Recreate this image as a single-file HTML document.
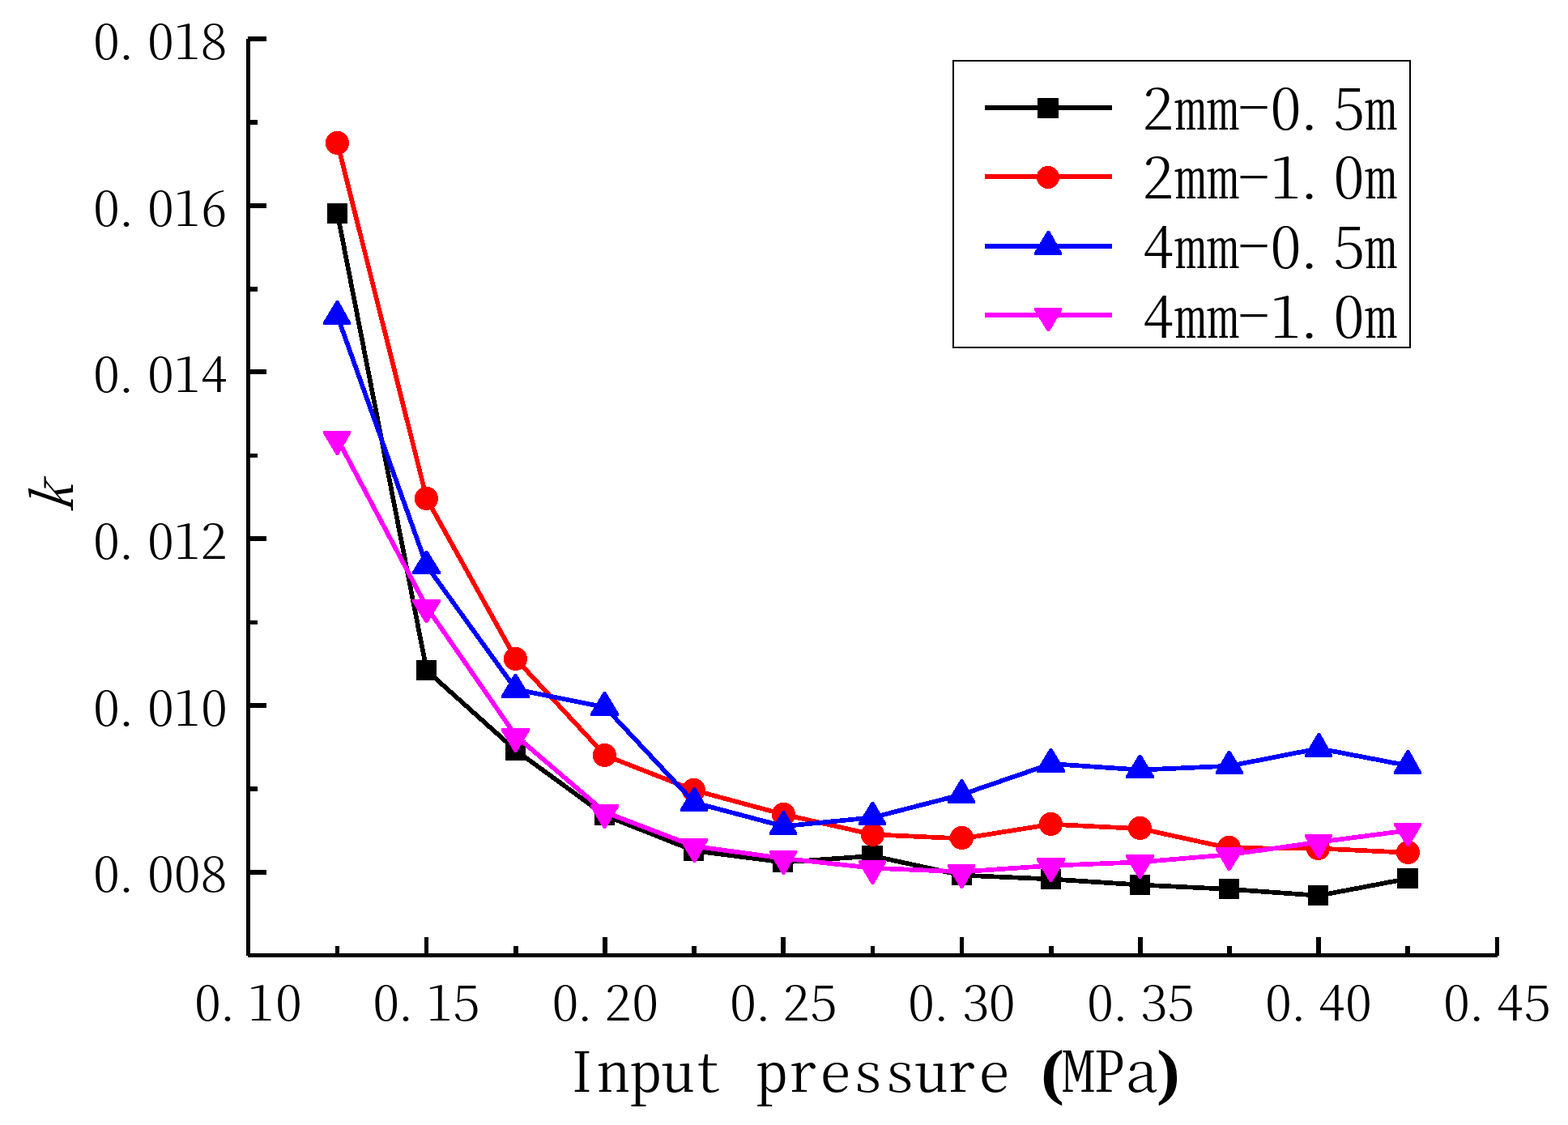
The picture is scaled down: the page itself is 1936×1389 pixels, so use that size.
<!DOCTYPE html>
<html lang="en"><head><meta charset="utf-8"><title>k vs. Input pressure (MPa)</title>
<style>
html,body{margin:0;padding:0;background:#fff}
body{width:1936px;height:1389px;overflow:hidden}
svg{display:block}
text{font-family:"Noto Serif CJK SC","Liberation Serif",serif;font-feature-settings:"hwid";font-kerning:none;font-weight:300;fill:#000;white-space:pre}
.tk{font-size:57.9px}
.lg{font-size:67.8px}
.tt{font-size:67px}
.mp{font-size:68.5px}
.pb{font-family:"Liberation Serif",serif;font-weight:bold;font-size:75.4px;font-feature-settings:normal}
</style></head><body>
<svg width="1936" height="1389" viewBox="0 0 1936 1389">
<rect width="1936" height="1389" fill="#fff"/>
<g fill="#000" shape-rendering="crispEdges">
<rect x="304" y="48" width="5" height="1132"/>
<rect x="306" y="1177" width="1543" height="5"/>
<rect x="306" y="45" width="23" height="6"/>
<rect x="306" y="148" width="12" height="6"/>
<rect x="306" y="251" width="23" height="6"/>
<rect x="306" y="354" width="12" height="6"/>
<rect x="306" y="456" width="23" height="6"/>
<rect x="306" y="560" width="12" height="5"/>
<rect x="306" y="662" width="23" height="6"/>
<rect x="306" y="766" width="12" height="5"/>
<rect x="306" y="868" width="23" height="6"/>
<rect x="306" y="971" width="12" height="6"/>
<rect x="306" y="1074" width="23" height="6"/>
<rect x="414" y="1168" width="5" height="12"/>
<rect x="524" y="1157" width="5" height="23"/>
<rect x="634" y="1168" width="6" height="12"/>
<rect x="744" y="1157" width="6" height="23"/>
<rect x="854" y="1168" width="6" height="12"/>
<rect x="964" y="1157" width="6" height="23"/>
<rect x="1075" y="1168" width="5" height="12"/>
<rect x="1185" y="1157" width="5" height="23"/>
<rect x="1295" y="1168" width="6" height="12"/>
<rect x="1405" y="1157" width="6" height="23"/>
<rect x="1515" y="1168" width="6" height="12"/>
<rect x="1625" y="1157" width="6" height="23"/>
<rect x="1735" y="1168" width="6" height="12"/>
<rect x="1846" y="1157" width="5" height="23"/>
</g>
<g shape-rendering="crispEdges" fill="none" stroke-linejoin="round" stroke-linecap="butt">
<polyline points="416.68,263.85 526.83,827.95 636.98,926.55 747.13,1006.85 857.28,1050.45 967.43,1064.55 1077.58,1056.85 1187.73,1080.65 1297.88,1085.45 1408.03,1092.55 1518.18,1097.85 1628.33,1105.75 1738.48,1084.85" stroke="#000000" stroke-width="5.7"/>
<rect x="404" y="251" width="25" height="25" fill="#000000"/>
<rect x="514" y="815" width="25" height="25" fill="#000000"/>
<rect x="624" y="914" width="25" height="25" fill="#000000"/>
<rect x="734" y="994" width="25" height="25" fill="#000000"/>
<rect x="844" y="1038" width="25" height="25" fill="#000000"/>
<rect x="954" y="1052" width="25" height="25" fill="#000000"/>
<rect x="1064" y="1044" width="26" height="25" fill="#000000"/>
<rect x="1175" y="1068" width="25" height="25" fill="#000000"/>
<rect x="1285" y="1073" width="25" height="25" fill="#000000"/>
<rect x="1395" y="1080" width="25" height="25" fill="#000000"/>
<rect x="1505" y="1085" width="25" height="25" fill="#000000"/>
<rect x="1615" y="1093" width="25" height="25" fill="#000000"/>
<rect x="1725" y="1072" width="26" height="25" fill="#000000"/>
<polyline points="416.68,176.85 526.83,615.65 636.98,813.75 747.13,932.65 857.28,975.75 967.43,1005.55 1077.58,1030.35 1187.73,1035.35 1297.88,1017.75 1408.03,1023.15 1518.18,1047.25 1628.33,1047.55 1738.48,1052.75" stroke="#ff0000" stroke-width="5.7"/>
<circle cx="416.5" cy="176.5" r="14.6" fill="#ff0000"/>
<circle cx="526.5" cy="615.5" r="14.6" fill="#ff0000"/>
<circle cx="636.5" cy="813.5" r="14.6" fill="#ff0000"/>
<circle cx="746.5" cy="932.5" r="14.6" fill="#ff0000"/>
<circle cx="856.5" cy="975.5" r="14.6" fill="#ff0000"/>
<circle cx="967.5" cy="1005.5" r="14.6" fill="#ff0000"/>
<circle cx="1077.5" cy="1030.5" r="14.6" fill="#ff0000"/>
<circle cx="1187.5" cy="1034.5" r="14.6" fill="#ff0000"/>
<circle cx="1297.5" cy="1017.5" r="14.6" fill="#ff0000"/>
<circle cx="1407.5" cy="1022.5" r="14.6" fill="#ff0000"/>
<circle cx="1517.5" cy="1046.5" r="14.6" fill="#ff0000"/>
<circle cx="1627.5" cy="1047.5" r="14.6" fill="#ff0000"/>
<circle cx="1738.5" cy="1052.5" r="14.6" fill="#ff0000"/>
<polyline points="416.68,390.35 526.83,698.65 636.98,851.25 747.13,873.15 857.28,991.05 967.43,1020.15 1077.58,1009.35 1187.73,980.95 1297.88,943.05 1408.03,950.55 1518.18,945.75 1628.33,924.15 1738.48,945.25" stroke="#0000ff" stroke-width="5.7"/>
<polygon points="415,371 418,371 433,398 433,401 399,401 399,398" fill="#0000ff"/>
<polygon points="525,680 528,680 544,706 544,709 509,709 509,706" fill="#0000ff"/>
<polygon points="635,832 638,832 654,859 654,862 619,862 619,859" fill="#0000ff"/>
<polygon points="745,854 748,854 764,881 764,884 729,884 729,881" fill="#0000ff"/>
<polygon points="856,972 859,972 874,999 874,1002 840,1002 840,999" fill="#0000ff"/>
<polygon points="966,1001 969,1001 984,1028 984,1031 950,1031 950,1028" fill="#0000ff"/>
<polygon points="1076,990 1079,990 1094,1016 1094,1019 1060,1019 1060,1016" fill="#0000ff"/>
<polygon points="1186,962 1189,962 1204,989 1204,992 1170,992 1170,989" fill="#0000ff"/>
<polygon points="1296,924 1299,924 1315,951 1315,954 1280,954 1280,951" fill="#0000ff"/>
<polygon points="1406,932 1409,932 1425,958 1425,961 1390,961 1390,958" fill="#0000ff"/>
<polygon points="1516,927 1519,927 1535,953 1535,956 1501,956 1501,953" fill="#0000ff"/>
<polygon points="1627,905 1630,905 1645,932 1645,935 1611,935 1611,932" fill="#0000ff"/>
<polygon points="1737,926 1740,926 1755,953 1755,956 1721,956 1721,953" fill="#0000ff"/>
<polyline points="416.68,541.85 526.83,749.55 636.98,908.65 747.13,1002.85 857.28,1044.75 967.43,1059.85 1077.58,1071.75 1187.73,1076.35 1297.88,1068.75 1408.03,1064.35 1518.18,1055.15 1628.33,1039.75 1738.48,1025.35" stroke="#ff00ff" stroke-width="5.7"/>
<polygon points="399,532 433,532 433,535 418,562 415,562 399,535" fill="#ff00ff"/>
<polygon points="509,740 544,740 544,743 528,769 525,769 509,743" fill="#ff00ff"/>
<polygon points="619,899 654,899 654,902 638,929 635,929 619,902" fill="#ff00ff"/>
<polygon points="729,993 764,993 764,996 748,1023 745,1023 729,996" fill="#ff00ff"/>
<polygon points="840,1035 874,1035 874,1038 859,1065 856,1065 840,1038" fill="#ff00ff"/>
<polygon points="950,1050 984,1050 984,1053 969,1080 966,1080 950,1053" fill="#ff00ff"/>
<polygon points="1060,1062 1094,1062 1094,1065 1079,1092 1076,1092 1060,1065" fill="#ff00ff"/>
<polygon points="1170,1067 1204,1067 1204,1070 1189,1097 1186,1097 1170,1070" fill="#ff00ff"/>
<polygon points="1280,1059 1315,1059 1315,1062 1299,1089 1296,1089 1280,1062" fill="#ff00ff"/>
<polygon points="1390,1055 1425,1055 1425,1058 1409,1085 1406,1085 1390,1058" fill="#ff00ff"/>
<polygon points="1501,1046 1535,1046 1535,1049 1519,1075 1516,1075 1501,1049" fill="#ff00ff"/>
<polygon points="1611,1030 1645,1030 1645,1033 1630,1060 1627,1060 1611,1033" fill="#ff00ff"/>
<polygon points="1721,1016 1755,1016 1755,1019 1740,1045 1737,1045 1721,1019" fill="#ff00ff"/>
</g>
<g shape-rendering="crispEdges">
<rect x="1177" y="75" width="564" height="354" fill="#fff" stroke="#000" stroke-width="2"/>
<rect x="1216" y="130" width="157" height="6" fill="#000000"/>
<rect x="1216" y="215" width="157" height="6" fill="#ff0000"/>
<rect x="1216" y="301" width="157" height="6" fill="#0000ff"/>
<rect x="1216" y="386" width="157" height="6" fill="#ff00ff"/>
<rect x="1281" y="121" width="26" height="25" fill="#000000"/>
<circle cx="1294" cy="219" r="14.1" fill="#ff0000"/>
<polygon points="1293,285 1296,285 1311,312 1311,315 1277,315 1277,312" fill="#0000ff"/>
<polygon points="1277,380 1311,380 1311,383 1296,409 1293,409 1277,383" fill="#ff00ff"/>
</g>
<g>
<text class="tk" transform="scale(1.14,1)" x="100.88 122.45 159.74 188.47 217.21" y="73.2">0.018</text>
<text class="tk" transform="scale(1.14,1)" x="100.88 122.45 159.74 188.47 217.3" y="279.2">0.016</text>
<text class="tk" transform="scale(1.14,1)" x="100.88 122.45 159.74 188.47 217.63" y="484.2">0.014</text>
<text class="tk" transform="scale(1.14,1)" x="100.88 122.45 159.74 188.47 217.03" y="690.2">0.012</text>
<text class="tk" transform="scale(1.14,1)" x="100.88 122.45 159.74 188.47 217.5" y="896.2">0.010</text>
<text class="tk" transform="scale(1.14,1)" x="100.88 122.45 159.74 188.42 217.21" y="1101.2">0.008</text>
<text class="tk" transform="scale(1.14,1)" x="210.48 232.1 268.29 298.29" y="1260.2">0.10</text>
<text class="tk" transform="scale(1.14,1)" x="403.81 425 461.71 491.09" y="1260.2">0.15</text>
<text class="tk" transform="scale(1.14,1)" x="597.76 619.12 654.93 684.34" y="1260.2">0.20</text>
<text class="tk" transform="scale(1.14,1)" x="790.35 812.1 847.91 877.93" y="1260.2">0.25</text>
<text class="tk" transform="scale(1.14,1)" x="983.38 1005.13 1042.35 1070.79" y="1260.2">0.30</text>
<text class="tk" transform="scale(1.14,1)" x="1177.15 1198.9 1235.29 1264.82" y="1260.2">0.35</text>
<text class="tk" transform="scale(1.14,1)" x="1370.13 1391.88 1428.16 1456.97" y="1260.2">0.40</text>
<text class="tk" transform="scale(1.14,1)" x="1563.11 1584.87 1621.14 1650.78" y="1260.2">0.45</text>
<text class="lg" transform="scale(1.14,1)" x="1237.2 1272.56 1307.73 1341.08 1375.59 1401.03 1444.61 1478.74" y="159.8 159.8 159.8 158.3 159.8 159.8 159.8 159.8">2mm-0.5m</text>
<text class="lg" transform="scale(1.14,1)" x="1237.2 1272.56 1307.73 1341.08 1375.65 1401.03 1444.19 1478.74" y="245.4 245.4 245.4 243.9 245.4 245.4 245.4 245.4">2mm-1.0m</text>
<text class="lg" transform="scale(1.14,1)" x="1237.83 1272.56 1307.73 1341.08 1375.59 1401.03 1444.61 1478.74" y="331 331 331 329.5 331 331 331 331">4mm-0.5m</text>
<text class="lg" transform="scale(1.14,1)" x="1237.83 1272.56 1307.73 1341.08 1375.65 1401.03 1444.19 1478.74" y="416.6 416.6 416.6 415.1 416.6 416.6 416.6 416.6">4mm-1.0m</text>
<text class="tt" transform="scale(1.154,1)" x="606.04 639.52 674.45 708.29 740.53 774.03 809.46 840.89 876.99 912.14 945.98 979.13 1010.56 1046.75 1080.25" y="1348">Input pressure <tspan class="pb" x="1113.5" y="1349">(</tspan><tspan class="mp" x="1136.79 1170.05 1203.8" y="1348">MPa</tspan><tspan class="pb" x="1237.43" y="1349">)</tspan></text>
<text class="lg" transform="translate(90.1,632.4) rotate(-90) skewX(-19) scale(1.045,1)" x="0" y="0">k</text>
</g>
</svg>
</body></html>
